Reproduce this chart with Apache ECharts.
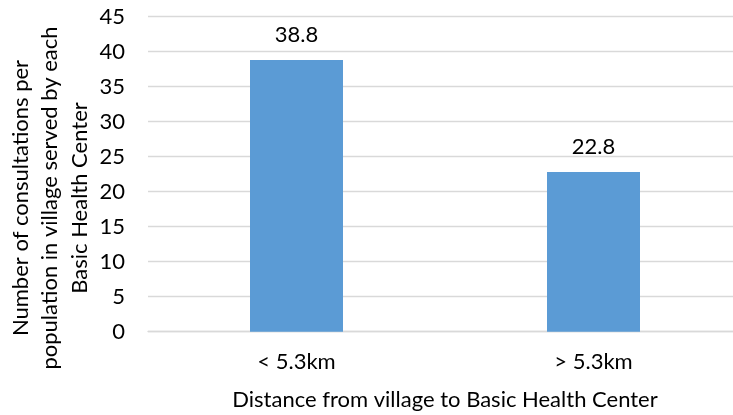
<!DOCTYPE html>
<html>
<head>
<meta charset="utf-8">
<style>
  html, body { margin: 0; padding: 0; background: #ffffff; }
  #chart { width: 733px; height: 415px; }
</style>
<script src="https://cdn.jsdelivr.net/npm/echarts@6/dist/echarts.min.js"></script>
</head>
<body>
<div id="chart"></div>
<script>
// Distance bands and mean consultations per population
const categories = ['< 5.3km', '> 5.3km'];
const consultations = [38.8, 22.8];
const yTicks = { min: 0, max: 45, interval: 5 };
const xTitle = 'Distance from village to Basic Health Center';
const yTitleLines = ['Number of consultations per', 'population in village served by each', 'Basic Health Center'];

const FONT = 'Lato';
const FS = 22;
const chart = echarts.init(document.getElementById('chart'), null, { renderer: 'canvas' });

chart.setOption({
  animation: false,
  backgroundColor: '#ffffff',
  textStyle: { fontFamily: FONT },
  grid: {
    left: 148,
    top: 16.7,
    width: 594,
    height: 315,
    outerBoundsMode: 'none',
    containLabel: false
  },
  xAxis: {
    type: 'category',
    data: categories,
    boundaryGap: true,
    axisLine: { show: true, lineStyle: { color: '#d9d9d9', width: 1.3 } },
    axisTick: { show: false },
    axisLabel: { color: '#000', fontSize: FS, fontFamily: FONT, margin: 19 },
    name: xTitle,
    nameLocation: 'middle',
    nameGap: 57,
    nameTextStyle: { color: '#000', fontSize: FS, fontFamily: FONT }
  },
  yAxis: {
    type: 'value',
    min: yTicks.min,
    max: yTicks.max,
    interval: yTicks.interval,
    axisLine: { show: false },
    axisTick: { show: false },
    axisLabel: { color: '#000', fontSize: FS, fontFamily: FONT, margin: 23 },
    splitLine: { show: true, lineStyle: { color: '#d9d9d9', width: 1.3 } }
  },
  series: [{
    type: 'bar',
    data: consultations,
    barWidth: 93,
    itemStyle: { color: '#5b9bd5' },
    label: {
      show: true,
      position: 'top',
      distance: 14,
      color: '#000',
      fontSize: FS,
      fontFamily: FONT,
      formatter: p => p.value.toFixed(1)
    }
  }],
  graphic: [{
    type: 'text',
    x: 50,
    y: 198,
    rotation: Math.PI / 2,
    style: {
      text: yTitleLines.join('\n'),
      fill: '#000',
      font: FS + 'px ' + FONT,
      lineHeight: 29.5,
      align: 'center',
      verticalAlign: 'middle'
    }
  }]
});
</script>
</body>
</html>
